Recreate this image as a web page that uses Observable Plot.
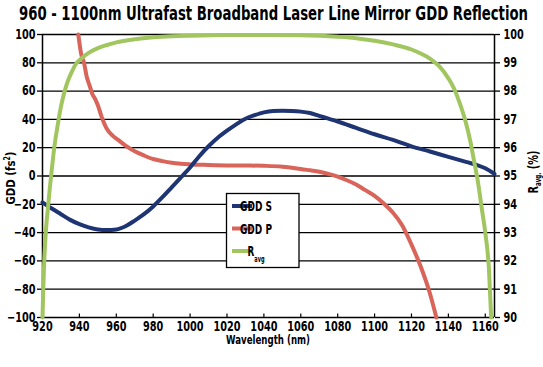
<!DOCTYPE html>
<html><head><meta charset="utf-8">
<script src="https://cdn.jsdelivr.net/npm/d3@7"></script>
<script src="https://cdn.jsdelivr.net/npm/@observablehq/plot@0.6"></script>
<style>
body{margin:0;background:#fff;}
#chart{position:relative;width:543px;height:367px;}
</style></head><body>
<div id="chart"></div>
<script>
// GDD S (fs^2)
const sWl  = [920,925,930,935,940,945,950,955,960,965,970,975,980,985,990,995,1000,1005,1010,1015,1020,1025,1030,1035,1040,1045,1050,1055,1060,1065,1070,1075,1080,1090,1100,1110,1120,1130,1140,1150,1155,1160,1165];
const sGdd = [-18.6,-23,-27,-31,-34,-36.3,-37.8,-38.2,-37.8,-35.5,-31.5,-27,-21.5,-15,-8,-1,6,14,21,27,32,36.5,40.5,43,45,46,46.2,46,45.5,44.5,42.5,40.5,38.5,34,29.5,25.5,21,17.3,13.5,9.8,8,5.5,1.5];
// GDD P (fs^2)
const pWl  = [939.4,941,942.5,944,945.5,947,948.5,950,952,955,958,961,965,970,975,980,985,990,995,1000,1010,1020,1030,1040,1050,1060,1065,1070,1075,1080,1085,1090,1095,1100,1105,1110,1115,1120,1125,1130,1133.5];
const pGdd = [100,86,80,70,64,58,54.5,50,42,33,28.5,25.5,21.5,17.5,14.5,12,10.5,9.3,8.6,8.2,7.8,7.5,7.4,7.2,6.6,5,4,3,1.5,-0.5,-3,-6,-10,-14,-19.5,-26,-35,-48.5,-64,-83,-100];
// R avg (%)
const rWl  = [920,920.5,921,922,923,924,925,926,927,928,929,930,932,934,936,938,941,945,950,955,960,970,980,990,1000,1020,1040,1060,1080,1090,1100,1110,1120,1125,1130,1135,1140,1143,1146,1149,1152,1154,1156,1158,1160,1162,1163.2];
const rPct = [90,91.2,92.1,93.2,93.9,94.6,95.2,95.8,96.3,96.7,97.1,97.45,98.0,98.4,98.7,98.95,99.15,99.35,99.52,99.63,99.72,99.83,99.9,99.94,99.96,99.98,99.98,99.97,99.92,99.87,99.78,99.65,99.47,99.33,99.15,98.88,98.45,98.1,97.6,97.0,96.2,95.5,94.8,93.9,93.0,91.7,90];

const xTicks = [920,940,960,980,1000,1020,1040,1060,1080,1100,1120,1140,1160];
const yTicks = [-100,-80,-60,-40,-20,0,20,40,60,80,100];
const rTicks = [90,91,92,93,94,95,96,97,98,99,100];
const seriesNames = ["GDD S","GDD P","R"];
const colors = ["#1f3573","#d9645a","#a1c65f"];
const titleText = "960 - 1100nm Ultrafast Broadband Laser Line Mirror GDD Reflection";

// map right-axis percent onto left-axis GDD range
const rToY = r => (r - 95) * 20;
const yToR = y => y / 20 + 95;

const sData = sWl.map((x,i)=>({x, y:sGdd[i]}));
const pData = pWl.map((x,i)=>({x, y:pGdd[i]}));
const rData = rWl.map((x,i)=>({x, r:rPct[i]}));

const ff = '"DejaVu Sans",sans-serif';
const plot = Plot.plot({
  width: 543, height: 367,
  marginLeft: 42, marginRight: 49, marginTop: 34, marginBottom: 50,
  style: {fontFamily: ff, fontSize: "13.5px", fontWeight: "bold", color: "#000", background: "#fff"},
  x: {domain: [920, 1165]},
  y: {domain: [-100, 100]},
  marks: [
    Plot.ruleY(yTicks, {stroke: "#000", strokeWidth: 1.3}),
    Plot.ruleX([920, 1165], {stroke: "#000", strokeWidth: 1.5}),
    Plot.ruleX(xTicks, {y1: -100, y2: -97.5, stroke: "#000", strokeWidth: 1.2}),
    Plot.axisY({anchor: "left", ticks: yTicks, tickSize: 5, tickPadding: 2, label: null, stroke: "#000", strokeWidth: 1.3}),
    Plot.axisY({anchor: "right", ticks: rTicks.map(rToY), tickFormat: d => String(Math.round(yToR(d))), tickSize: 5, tickPadding: 4, label: null, stroke: "#000", strokeWidth: 1.3}),
    Plot.axisX({anchor: "bottom", ticks: xTicks, tickSize: 0, tickPadding: 4, label: null, tickFormat: d => String(d)}),
    Plot.line(pData, {x: "x", y: "y", stroke: colors[1], strokeWidth: 4, curve: "monotone-x"}),
    Plot.line(sData, {x: "x", y: "y", stroke: colors[0], strokeWidth: 4, curve: "monotone-x"}),
    Plot.line(rData, {x: "x", y: d => rToY(d.r), stroke: colors[2], strokeWidth: 4, curve: "monotone-x"})
  ]
});
document.getElementById("chart").appendChild(plot);

const svg = d3.select(plot);
function squeeze(sel, f) {
  sel.each(function(){
    const len = this.getComputedTextLength();
    if (len > 0) { this.setAttribute("textLength", (len * f).toFixed(2)); this.setAttribute("lengthAdjust", "spacingAndGlyphs"); }
  });
}
function fitTo(sel, w) {
  sel.attr("textLength", w).attr("lengthAdjust", "spacingAndGlyphs");
}
// condense tick labels
squeeze(svg.selectAll("g[aria-label$='tick label'] text"), 0.72);

// title
const tt = svg.append("text").attr("x",273.5).attr("y",20).attr("text-anchor","middle")
  .attr("font-family",ff).attr("font-weight","bold").attr("font-size",19).attr("fill","#000").text(titleText);
fitTo(tt, 509);

// axis titles
const lt = svg.append("text").attr("transform","translate(15,178) rotate(-90)")
  .attr("text-anchor","middle").attr("font-family",ff).attr("font-weight","bold").attr("font-size",13).attr("fill","#000");
lt.append("tspan").text("GDD (fs");
lt.append("tspan").attr("font-size",8).attr("dy",-5).text("2");
lt.append("tspan").attr("dy",5).text(")");
fitTo(lt, 53);

const rt = svg.append("text").attr("transform","translate(538,172) rotate(-90)")
  .attr("text-anchor","middle").attr("font-family",ff).attr("font-weight","bold").attr("font-size",14).attr("fill","#000");
rt.append("tspan").text("R");
rt.append("tspan").attr("font-size",8).attr("dy",3).text("avg.");
rt.append("tspan").attr("dy",-3).text(" (%)");
fitTo(rt, 43);

const bt = svg.append("text").attr("x",268).attr("y",344).attr("text-anchor","middle")
  .attr("font-family",ff).attr("font-weight","bold").attr("font-size",13).attr("fill","#000").text("Wavelength (nm)");
fitTo(bt, 84);

// legend
const lg = svg.append("g");
lg.append("rect").attr("x",226.5).attr("y",193.5).attr("width",72.5).attr("height",74).attr("fill","#fff").attr("stroke","#000").attr("stroke-width",1.3);
const rows = [206, 228.5, 251];
seriesNames.forEach((name,i)=>{
  lg.append("line").attr("x1",232).attr("x2",252).attr("y1",rows[i]).attr("y2",rows[i]).attr("stroke",colors[i]).attr("stroke-width",4);
  const t = lg.append("text").attr("x",256).attr("y",rows[i]+5).attr("font-family",ff).attr("font-weight","bold").attr("font-size",14).attr("fill","#000");
  t.append("tspan").text(name);
  if (name === "R") { t.append("tspan").attr("font-size",8).attr("dy",6).text("avg"); fitTo(t, 17); }
  else fitTo(t, 32);
});
</script>
</body></html>
